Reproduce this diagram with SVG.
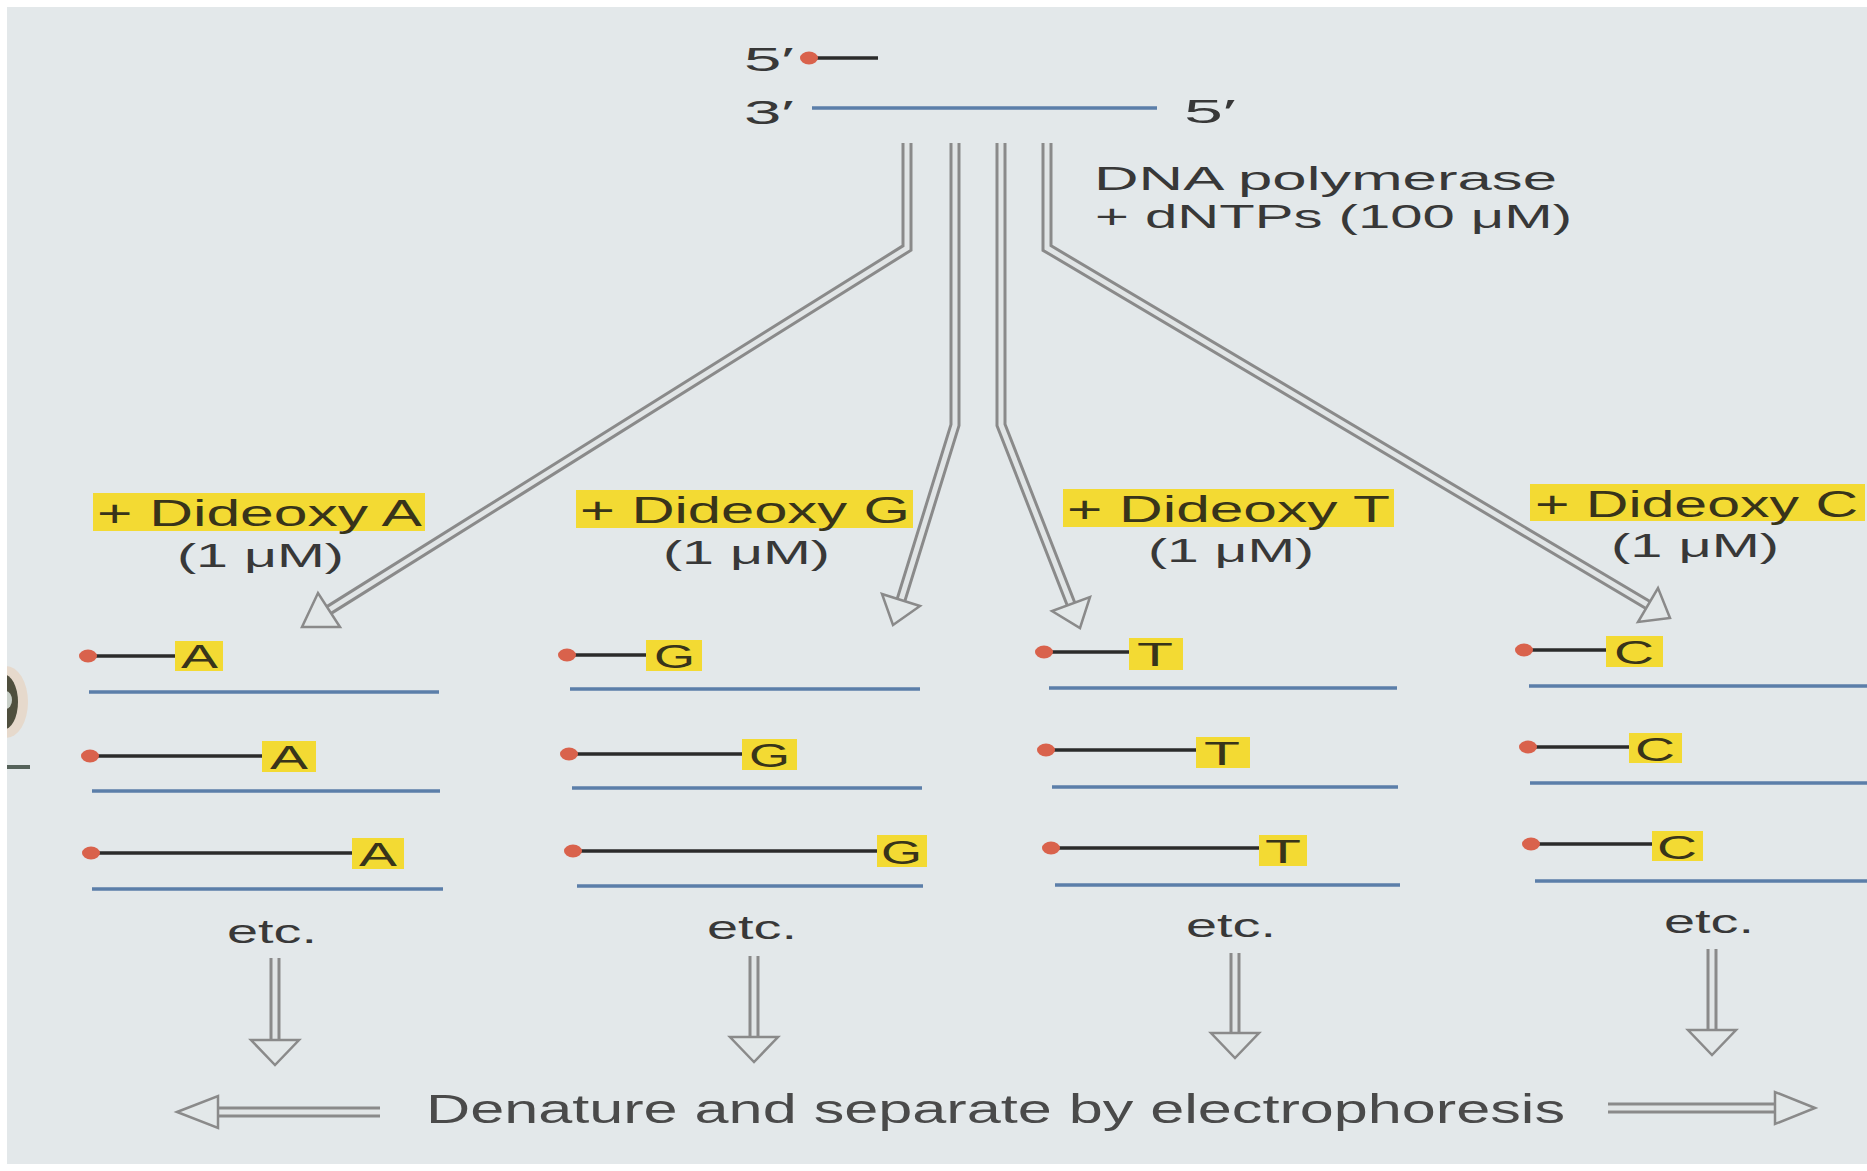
<svg xmlns="http://www.w3.org/2000/svg" width="1867" height="1171" viewBox="0 0 1867 1171">
<style>
  text { font-family: "Liberation Sans", Arial, sans-serif; }
  .t { fill: #383838; font-size: 34px; }
  .hl { fill: #f3da33; }
  .ht { fill: #38341a; font-size: 36px; }
  .lt { fill: #38341a; font-size: 34px; }
  .bt { fill: #4a4a4a; font-size: 40px; }
  .dot { fill: #d9624c; }
  .pr { stroke: #2b2b2b; stroke-width: 3.5; fill: none; }
  .tm { stroke: #5b7ea9; stroke-width: 3.5; fill: none; }
  .so { stroke: #8a8a8a; stroke-width: 11; fill: none; stroke-linejoin: miter; }
  .si { stroke: #e1e5e6; stroke-width: 5; fill: none; stroke-linejoin: miter; }
  .hd { fill: #e3e8e9; stroke: #8a8a8a; stroke-width: 2.5; stroke-linejoin: miter; }
</style>
<rect x="0" y="0" width="1867" height="1171" fill="#ffffff"/>
<rect x="7" y="7" width="1860" height="1157" fill="#e3e8ea"/>
<g id="edge-artifact">
  <ellipse cx="6" cy="702" rx="22" ry="36" fill="#e6d9cc"/>
  <ellipse cx="3" cy="702" rx="15" ry="28" fill="#4f4f3e"/>
  <ellipse cx="6" cy="700" rx="6" ry="9" fill="#c8cfc8"/>
  <rect x="0" y="0" width="7" height="1171" fill="#ffffff"/>
  <line x1="7" y1="767" x2="30" y2="767" stroke="#55625a" stroke-width="4"/>
</g>

<g id="top-dna">
  <text class="t" x="744" y="71" textLength="50" lengthAdjust="spacingAndGlyphs">5′</text>
  <line class="pr" x1="809" y1="58" x2="878" y2="58"/>
  <ellipse class="dot" cx="809" cy="58" rx="9" ry="6.5"/>
  <text class="t" x="744" y="124" textLength="50" lengthAdjust="spacingAndGlyphs">3′</text>
  <line class="tm" x1="812" y1="108" x2="1157" y2="108"/>
  <text class="t" x="1184" y="123" textLength="52" lengthAdjust="spacingAndGlyphs">5′</text>
</g>

<g id="reagent-label">
  <text class="t" x="1094" y="190" textLength="463" lengthAdjust="spacingAndGlyphs">DNA polymerase</text>
  <text class="t" x="1095" y="228" textLength="477" lengthAdjust="spacingAndGlyphs">+ dNTPs (100 μM)</text>
</g>

<g id="lane-A">
  <rect class="hl" x="93" y="493" width="332" height="38"/>
  <text class="ht" x="97" y="526" textLength="325" lengthAdjust="spacingAndGlyphs">+ Dideoxy A</text>
  <text class="t" x="177" y="567" textLength="167" lengthAdjust="spacingAndGlyphs">(1 μM)</text>
  <line class="pr" x1="88" y1="656" x2="176" y2="656"/><ellipse class="dot" cx="88" cy="656" rx="9" ry="6.5"/>
  <rect class="hl" x="175" y="641" width="48" height="30"/><text class="lt" x="181" y="668" textLength="37" lengthAdjust="spacingAndGlyphs">A</text>
  <line class="tm" x1="89" y1="692" x2="439" y2="692"/>
  <line class="pr" x1="90" y1="756" x2="263" y2="756"/><ellipse class="dot" cx="90" cy="756" rx="9" ry="6.5"/>
  <rect class="hl" x="262" y="741" width="54" height="31"/><text class="lt" x="270" y="769" textLength="38" lengthAdjust="spacingAndGlyphs">A</text>
  <line class="tm" x1="92" y1="791" x2="440" y2="791"/>
  <line class="pr" x1="91" y1="853" x2="353" y2="853"/><ellipse class="dot" cx="91" cy="853" rx="9" ry="6.5"/>
  <rect class="hl" x="352" y="838" width="52" height="31"/><text class="lt" x="359" y="866" textLength="38" lengthAdjust="spacingAndGlyphs">A</text>
  <line class="tm" x1="92" y1="889" x2="443" y2="889"/>
  <text class="t" x="227" y="943" textLength="90" lengthAdjust="spacingAndGlyphs">etc.</text>
</g>

<g id="lane-G">
  <rect class="hl" x="576" y="490" width="337" height="38"/>
  <text class="ht" x="580" y="523" textLength="330" lengthAdjust="spacingAndGlyphs">+ Dideoxy G</text>
  <text class="t" x="663" y="564" textLength="167" lengthAdjust="spacingAndGlyphs">(1 μM)</text>
  <line class="pr" x1="567" y1="655" x2="647" y2="655"/><ellipse class="dot" cx="567" cy="655" rx="9" ry="6.5"/>
  <rect class="hl" x="646" y="640" width="56" height="31"/><text class="lt" x="654" y="668" textLength="41" lengthAdjust="spacingAndGlyphs">G</text>
  <line class="tm" x1="570" y1="689" x2="920" y2="689"/>
  <line class="pr" x1="569" y1="754" x2="742" y2="754"/><ellipse class="dot" cx="569" cy="754" rx="9" ry="6.5"/>
  <rect class="hl" x="742" y="739" width="55" height="31"/><text class="lt" x="749" y="767" textLength="41" lengthAdjust="spacingAndGlyphs">G</text>
  <line class="tm" x1="572" y1="788" x2="922" y2="788"/>
  <line class="pr" x1="573" y1="851" x2="877" y2="851"/><ellipse class="dot" cx="573" cy="851" rx="9" ry="6.5"/>
  <rect class="hl" x="877" y="835" width="50" height="32"/><text class="lt" x="881" y="864" textLength="41" lengthAdjust="spacingAndGlyphs">G</text>
  <line class="tm" x1="577" y1="886" x2="923" y2="886"/>
  <text class="t" x="707" y="939" textLength="90" lengthAdjust="spacingAndGlyphs">etc.</text>
</g>

<g id="lane-T">
  <rect class="hl" x="1063" y="489" width="331" height="38"/>
  <text class="ht" x="1067" y="522" textLength="323" lengthAdjust="spacingAndGlyphs">+ Dideoxy T</text>
  <text class="t" x="1148" y="562" textLength="166" lengthAdjust="spacingAndGlyphs">(1 μM)</text>
  <line class="pr" x1="1044" y1="652" x2="1130" y2="652"/><ellipse class="dot" cx="1044" cy="652" rx="9" ry="6.5"/>
  <rect class="hl" x="1129" y="638" width="54" height="32"/><text class="lt" x="1137" y="666" textLength="36" lengthAdjust="spacingAndGlyphs">T</text>
  <line class="tm" x1="1049" y1="688" x2="1397" y2="688"/>
  <line class="pr" x1="1046" y1="750" x2="1197" y2="750"/><ellipse class="dot" cx="1046" cy="750" rx="9" ry="6.5"/>
  <rect class="hl" x="1196" y="737" width="54" height="31"/><text class="lt" x="1204" y="765" textLength="36" lengthAdjust="spacingAndGlyphs">T</text>
  <line class="tm" x1="1052" y1="787" x2="1398" y2="787"/>
  <line class="pr" x1="1051" y1="848" x2="1260" y2="848"/><ellipse class="dot" cx="1051" cy="848" rx="9" ry="6.5"/>
  <rect class="hl" x="1259" y="835" width="48" height="31"/><text class="lt" x="1265" y="863" textLength="36" lengthAdjust="spacingAndGlyphs">T</text>
  <line class="tm" x1="1055" y1="885" x2="1400" y2="885"/>
  <text class="t" x="1186" y="937" textLength="90" lengthAdjust="spacingAndGlyphs">etc.</text>
</g>

<g id="lane-C">
  <rect class="hl" x="1530" y="484" width="335" height="37"/>
  <text class="ht" x="1535" y="517" textLength="323" lengthAdjust="spacingAndGlyphs">+ Dideoxy C</text>
  <text class="t" x="1611" y="557" textLength="168" lengthAdjust="spacingAndGlyphs">(1 μM)</text>
  <line class="pr" x1="1524" y1="650" x2="1607" y2="650"/><ellipse class="dot" cx="1524" cy="650" rx="9" ry="6.5"/>
  <rect class="hl" x="1606" y="636" width="57" height="31"/><text class="lt" x="1614" y="664" textLength="40" lengthAdjust="spacingAndGlyphs">C</text>
  <line class="tm" x1="1529" y1="686" x2="1867" y2="686"/>
  <line class="pr" x1="1528" y1="747" x2="1630" y2="747"/><ellipse class="dot" cx="1528" cy="747" rx="9" ry="6.5"/>
  <rect class="hl" x="1629" y="733" width="53" height="30"/><text class="lt" x="1635" y="761" textLength="40" lengthAdjust="spacingAndGlyphs">C</text>
  <line class="tm" x1="1530" y1="783" x2="1867" y2="783"/>
  <line class="pr" x1="1531" y1="844" x2="1653" y2="844"/><ellipse class="dot" cx="1531" cy="844" rx="9" ry="6.5"/>
  <rect class="hl" x="1652" y="831" width="51" height="30"/><text class="lt" x="1657" y="859" textLength="40" lengthAdjust="spacingAndGlyphs">C</text>
  <line class="tm" x1="1535" y1="881" x2="1867" y2="881"/>
  <text class="t" x="1664" y="933" textLength="90" lengthAdjust="spacingAndGlyphs">etc.</text>
</g>

<g id="bottom-label">
  <text class="bt" x="426" y="1123" textLength="1139" lengthAdjust="spacingAndGlyphs">Denature and separate by electrophoresis</text>
</g>

<g id="connectors">
  <path class="so" d="M907 143 L907 248 L329 610"/>
  <path class="si" d="M907 143 L907 248 L329 610"/>
  <polygon class="hd" points="302,627 340,627 318,593"/>
  <path class="so" d="M955 143 L955 425 L901 600"/>
  <path class="si" d="M955 143 L955 425 L901 600"/>
  <polygon class="hd" points="893,625 920,606 882,594"/>
  <path class="so" d="M1001 143 L1001 425 L1071 604"/>
  <path class="si" d="M1001 143 L1001 425 L1071 604"/>
  <polygon class="hd" points="1080,628 1090,597 1052,611"/>
  <path class="so" d="M1047 143 L1047 248 L1648 605"/>
  <path class="si" d="M1047 143 L1047 248 L1648 605"/>
  <polygon class="hd" points="1670,618 1658,588 1638,622"/>
  <path class="so" d="M275 958 L275 1040"/><path class="si" d="M275 958 L275 1040"/>
  <polygon class="hd" points="251,1040 299,1040 275,1065"/>
  <path class="so" d="M754 956 L754 1037"/><path class="si" d="M754 956 L754 1037"/>
  <polygon class="hd" points="730,1037 778,1037 754,1062"/>
  <path class="so" d="M1235 953 L1235 1033"/><path class="si" d="M1235 953 L1235 1033"/>
  <polygon class="hd" points="1211,1033 1259,1033 1235,1058"/>
  <path class="so" d="M1712 949 L1712 1030"/><path class="si" d="M1712 949 L1712 1030"/>
  <polygon class="hd" points="1688,1030 1736,1030 1712,1055"/>
  <path class="so" d="M380 1112 L218 1112"/><path class="si" d="M380 1112 L218 1112"/>
  <polygon class="hd" points="177,1112 218,1096 218,1128"/>
  <path class="so" d="M1608 1108 L1775 1108"/><path class="si" d="M1608 1108 L1775 1108"/>
  <polygon class="hd" points="1815,1108 1775,1092 1775,1124"/>
</g>
</svg>
